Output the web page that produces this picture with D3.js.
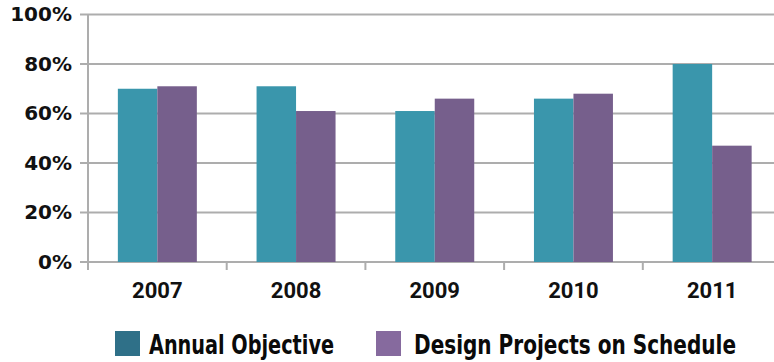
<!DOCTYPE html>
<html>
<head>
<meta charset="utf-8">
<script src="https://cdn.jsdelivr.net/npm/d3@7"></script>
<style>
  html, body { margin: 0; padding: 0; background: #ffffff; }
  svg { display: block; }
</style>
</head>
<body>
<svg id="chart" width="774" height="362"></svg>
<script>
// Yearly share of design projects delivered on schedule vs. the annual objective
const years = ["2007", "2008", "2009", "2010", "2011"];
const seriesNames = ["Annual Objective", "Design Projects on Schedule"];
const annualObjective = [70, 71, 61, 66, 80];
const projectsOnSchedule = [71, 61, 66, 68, 47];
const yTicks = [0, 20, 40, 60, 80, 100];

const barColors = ["#3a96ac", "#765f8c"];
const swatchColors = ["#2f7088", "#866a9e"];

const svg = d3.select("#chart");
const W = 774;

const plot = { left: 88, top: 14.5, bottom: 262, right: 781.5 };

const y = d3.scaleLinear().domain([0, 100]).range([plot.bottom, plot.top]);
const x0 = d3.scaleBand().domain(years).range([plot.left, plot.right]).padding(0);
const x1 = d3.scaleBand().domain(seriesNames).range([0, x0.bandwidth()])
  .paddingInner(0).paddingOuter(0.756);

const rows = years.map((yr, i) => ({
  year: yr,
  values: [annualObjective[i], projectsOnSchedule[i]]
}));

// horizontal gridlines
svg.append("g")
  .selectAll("line")
  .data(yTicks)
  .join("line")
  .attr("x1", plot.left - 8)
  .attr("x2", W)
  .attr("y1", d => y(d))
  .attr("y2", d => y(d))
  .attr("stroke", "#adadad")
  .attr("stroke-width", 2);

// vertical axis line
svg.append("line")
  .attr("x1", plot.left).attr("x2", plot.left)
  .attr("y1", y(100)).attr("y2", plot.bottom + 8)
  .attr("stroke", "#adadad").attr("stroke-width", 2);

// category boundary ticks
svg.append("g")
  .selectAll("line")
  .data(years.slice(1))
  .join("line")
  .attr("x1", d => x0(d)).attr("x2", d => x0(d))
  .attr("y1", plot.bottom).attr("y2", plot.bottom + 8)
  .attr("stroke", "#adadad").attr("stroke-width", 2);

// bars
svg.append("g")
  .selectAll("g")
  .data(rows)
  .join("g")
  .attr("transform", d => `translate(${x0(d.year)},0)`)
  .selectAll("rect")
  .data(d => d.values.map((v, k) => ({ name: seriesNames[k], value: v, k })))
  .join("rect")
  .attr("x", d => x1(d.name))
  .attr("width", x1.bandwidth())
  .attr("y", d => y(d.value))
  .attr("height", d => y(0) - y(d.value))
  .attr("fill", d => barColors[d.k]);

// y axis labels
const yAxis = d3.axisLeft(y)
  .tickValues(yTicks)
  .tickFormat(d => d + "%")
  .tickSize(0)
  .tickPadding(16);
const yg = svg.append("g").attr("transform", `translate(${plot.left},0)`).call(yAxis);
yg.select(".domain").remove();
yg.selectAll("text")
  .attr("fill", "#111")
  .style("font-family", "'DejaVu Sans', sans-serif")
  .style("font-weight", "bold")
  .style("font-size", "20px");

// x axis labels
const xAxis = d3.axisBottom(x0).tickSize(0).tickPadding(0);
const xg = svg.append("g").attr("transform", `translate(0,${plot.bottom})`).call(xAxis);
xg.select(".domain").remove();
xg.selectAll("text")
  .attr("y", 36)
  .attr("dy", null)
  .attr("fill", "#111")
  .style("font-family", "Roboto, sans-serif")
  .style("font-weight", "bold")
  .style("font-size", "22px");

// legend
const legendItems = [
  { name: seriesNames[0], color: swatchColors[0], sx: 115, tx: 149, tw: 185 },
  { name: seriesNames[1], color: swatchColors[1], sx: 376, tx: 414, tw: 322 }
];
const lg = svg.append("g");
lg.selectAll("rect")
  .data(legendItems)
  .join("rect")
  .attr("x", d => d.sx).attr("y", 331)
  .attr("width", 25).attr("height", 25)
  .attr("fill", d => d.color);
lg.selectAll("text")
  .data(legendItems)
  .join("text")
  .attr("x", d => d.tx).attr("y", 354)
  .attr("textLength", d => d.tw)
  .attr("lengthAdjust", "spacingAndGlyphs")
  .attr("fill", "#0a0a0a")
  .style("font-family", "'Liberation Sans Narrow', 'DejaVu Sans Condensed', sans-serif")
  .style("font-weight", "bold")
  .style("font-size", "27px")
  .text(d => d.name);
</script>
</body>
</html>
